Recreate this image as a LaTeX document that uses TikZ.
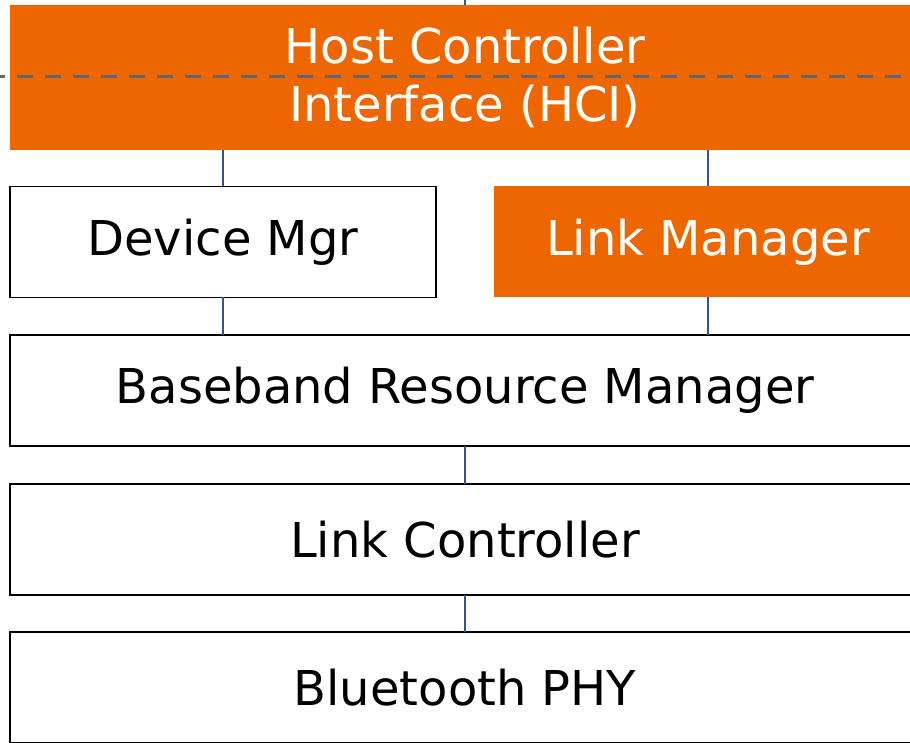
\documentclass[tikz,border=0pt]{standalone}
\usepackage{fontspec}
\setmainfont{DejaVu Sans}
\definecolor{hciorange}{RGB}{237,102,0}
\definecolor{linkblue}{RGB}{47,85,151}
\definecolor{dashgray}{RGB}{102,102,102}
\begin{document}
\begin{tikzpicture}[
  x=1pt, y=1pt,
  layer/.style={draw=black, line width=1.8pt, fill=white, inner sep=0pt, outer sep=0pt,
    minimum height=111pt, align=center, font=\fontsize{48}{58}\selectfont},
  hot/.style={layer, draw=none, fill=hciorange, text=white},
  link/.style={draw=linkblue, line width=1.3pt}
]
\useasboundingbox (0,0) rectangle (910,742);
\clip (0,0) rectangle (910,742);
\node[hot, minimum width=910pt, minimum height=145pt] (hci) at (465,664.5) {Host Controller\\Interface (HCI)};
\node[layer, minimum width=426pt] (dm) at (223,500) {Device Mgr};
\node[hot, minimum width=428pt] (lm) at (708,500) {Link Manager};
\node[layer, minimum width=910pt] (bb) at (465,351.5) {Baseband Resource Manager};
\node[layer, minimum width=910pt] (lc) at (465,202.5) {Link Controller};
\node[layer, minimum width=910pt] (phy) at (465,54.5) {Bluetooth PHY};
\coordinate (top) at (465,742);
% boundary between host and controller
\draw[dashgray, line width=3pt, dash pattern=on 16pt off 12pt, dash phase=11pt] (0,665) -- (910,665);
\draw[link] (top) -- (hci.north);
\draw[link] (hci.south -| dm) -- (dm.north);
\draw[link] (dm.south) -- (bb.north -| dm);
\draw[link] (hci.south -| lm) -- (lm.north);
\draw[link] (lm.south) -- (bb.north -| lm);
\draw[link] (bb.south) -- (lc.north);
\draw[link] (lc.south) -- (phy.north);
\end{tikzpicture}
\end{document}
